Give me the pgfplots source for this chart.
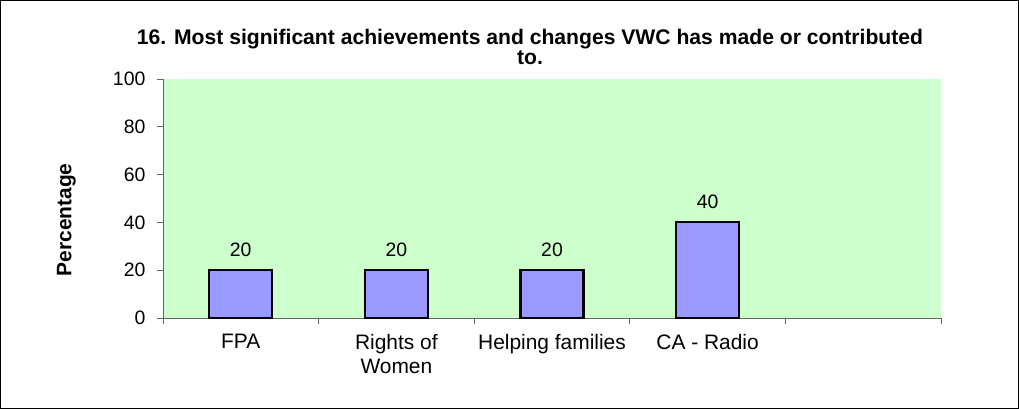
\documentclass[border=0pt]{standalone}
\usepackage{pgfplots}
\pgfplotsset{compat=1.18}
\usepackage{fontspec}
\setmainfont{Liberation Sans}
\definecolor{plotbg}{HTML}{CCFFCC}
\definecolor{barfill}{HTML}{9999FF}
\begin{document}
\begin{tikzpicture}
\draw[black, line width=0.8bp, fill=white] (0.5bp,-0.5bp) rectangle (1018.5bp,-408.5bp);
\begin{axis}[
  at={(163bp,-318bp)}, anchor=south west,
  scale only axis, width=778bp, height=239bp,
  xmin=-0.5, xmax=4.5, ymin=0, ymax=100,
  axis x line*=bottom, axis y line*=left,
  axis line style={black!60, line width=0.8bp},
  axis background/.style={fill=plotbg},
  ytick={0,20,40,60,80,100},
  xtick={0,1,2,3,4},
  xticklabels={FPA, {Rights of\\Women}, Helping families, CA - Radio, {}},
  x tick label style={align=center, font=\fontsize{21}{23.5}\selectfont, yshift=-7bp},
  y tick label style={font=\fontsize{19.5}{21}\selectfont, xshift=-8bp},
  /pgf/number format/assume math mode=true,
  major x tick style={draw=none},
  minor xtick={-0.5,0.5,1.5,2.5,3.5,4.5},
  tick align=outside,
  major tick length=6bp, minor tick length=6bp,
  tick style={black!60, line width=0.8bp},
  ybar, bar width=63bp,
  nodes near coords,
  every node near coord/.append style={font=\fontsize{19.5}{21}\selectfont, yshift=9bp},
  clip=false,
]
\addplot[fill=barfill, draw=black, line width=2.2bp] coordinates {(0,20) (1,20) (2,20) (3,40)};
\end{axis}
\node[font=\bfseries\fontsize{21.2}{20.5}\selectfont, align=center] at (530bp,-47bp) {16. Most significant achievements and changes VWC has made or contributed\\to.};
\node[font=\bfseries\fontsize{21}{22}\selectfont, rotate=90] at (66.5bp,-220bp) {Percentage};
\end{tikzpicture}
\end{document}
